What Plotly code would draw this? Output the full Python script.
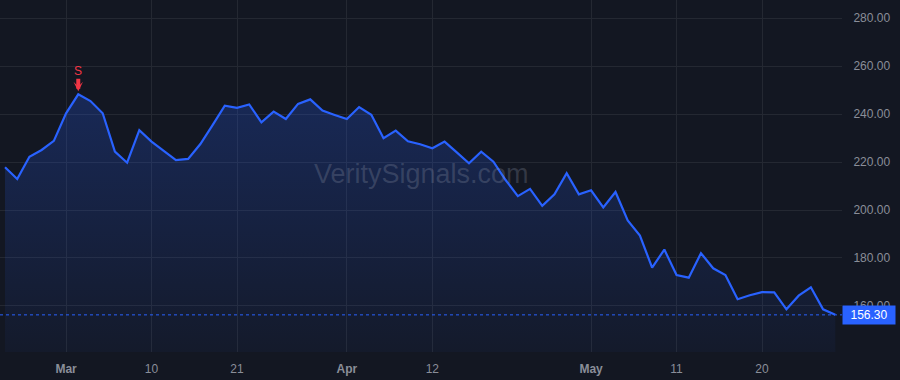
import plotly.graph_objects as go

# ---- data ----
prices = [217.8, 212.9, 222.2, 225.0, 228.8, 240.3, 248.2, 245.4, 240.3, 224.3,
          219.7, 233.3, 228.5, 224.7, 220.8, 221.3, 227.5, 235.4, 243.5, 242.6,
          244.0, 236.5, 241.0, 237.9, 244.2, 246.1, 241.4, 239.6, 237.9, 242.9,
          239.7, 229.9, 233.1, 228.6, 227.4, 225.7, 228.5, 224.0, 219.5, 224.3,
          220.1, 212.5, 205.8, 208.8, 201.7, 206.5, 215.3, 206.5, 208.2, 201.1,
          207.5, 195.6, 189.3, 176.0, 183.5, 172.9, 171.8, 182.0, 175.7, 172.9,
          162.8, 164.5, 165.8, 165.7, 158.6, 164.3, 167.8, 158.6, 156.3]
bar_index = list(range(len(prices)))
tick_index = [5, 12, 19, 28, 35, 48, 55, 62]
tick_text = ["<b>Mar</b>", "10", "21", "<b>Apr</b>", "12", "<b>May</b>", "11", "20"]
y_ticks = [160, 180, 200, 220, 240, 260, 280]
signal_index = 6
signal_label = "S"
last_price = prices[-1]
watermark = "VeritySignals.com"

BG = "#131722"
GRID = "#242832"
BLUE = "#2962FF"
RED = "#F23645"
TXT = "#8a8e99"

fig = go.Figure()
fig.add_trace(go.Scatter(
    x=bar_index, y=prices, mode="lines",
    line=dict(color=BLUE, width=2.2),
    fill="tozeroy",
    fillgradient=dict(type="vertical", start=140, stop=250,
                      colorscale=[[0, "rgba(41,98,255,0.04)"], [1, "rgba(41,98,255,0.24)"]]),
    hoverinfo="skip", showlegend=False,
))

# last price dotted line
fig.add_shape(type="line", xref="paper", yref="y", x0=0, x1=1,
              y0=last_price, y1=last_price,
              line=dict(color=BLUE, width=1, dash="dot"))

# price label
fig.add_annotation(xref="paper", yref="y", x=1.0, y=last_price, xanchor="left",
                   xshift=0, text=f"{last_price:.2f}", showarrow=False,
                   font=dict(color="white", size=12, family="Liberation Sans, Arial"),
                   bgcolor=BLUE, borderpad=2, width=48, align="center")

# sell signal: arrow + label
fig.add_annotation(x=signal_index, y=prices[signal_index], text="",
                   showarrow=True, arrowhead=3, arrowsize=0.4, arrowwidth=4,
                   arrowcolor=RED, ax=0, ay=-17, standoff=3)
fig.add_annotation(x=signal_index, y=prices[signal_index], text=signal_label,
                   showarrow=False, yshift=23,
                   font=dict(color=RED, size=12, family="Liberation Sans, Arial"))

# watermark
fig.add_annotation(xref="paper", yref="paper", x=0.5, y=0.506, text=watermark,
                   showarrow=False,
                   font=dict(color="rgba(150,156,175,0.26)", size=27,
                             family="Liberation Sans, Arial"))

fig.update_layout(
    width=900, height=380,
    margin=dict(l=0, r=58, t=0, b=28),
    paper_bgcolor=BG, plot_bgcolor=BG,
    font=dict(family="Liberation Sans, Arial", color=TXT, size=12),
    xaxis=dict(range=[-0.41, 68.55], tickvals=tick_index, ticktext=tick_text,
               showgrid=True, gridcolor=GRID, gridwidth=1, zeroline=False,
               showline=False, ticks="outside", ticklen=6,
               tickcolor="rgba(0,0,0,0)", tickfont=dict(color=TXT, size=12)),
    yaxis=dict(range=[140.83, 287.5], side="right", tickvals=y_ticks,
               tickformat=".2f", showgrid=True, gridcolor=GRID, gridwidth=1,
               zeroline=False, showline=False, ticks="outside", ticklen=8,
               tickcolor="rgba(0,0,0,0)", tickfont=dict(color=TXT, size=12)),
)

fig.write_html("out.html")
